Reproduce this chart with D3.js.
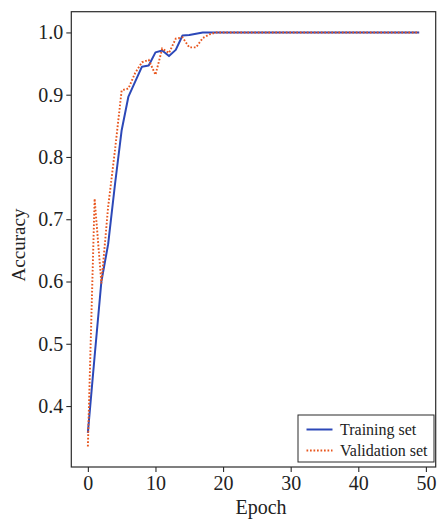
<!DOCTYPE html>
<html>
<head>
<meta charset="utf-8">
<script src="https://cdn.jsdelivr.net/npm/d3@7"></script>
<style>
  html, body { margin: 0; padding: 0; background: #fff; }
  svg { display: block; }
  text { font-family: "Liberation Serif", "Times New Roman", serif; fill: #222; }
</style>
</head>
<body>
<svg id="chart" width="438" height="519"></svg>
<script>
// Accuracy per epoch (0..49)
const trainingAcc = [
  0.357, 0.480, 0.600, 0.660, 0.755, 0.843, 0.897, 0.921, 0.945, 0.947,
  0.968, 0.971, 0.962, 0.972, 0.995, 0.996, 0.998, 1.000, 1.000, 1.000,
  1.000, 1.000, 1.000, 1.000, 1.000, 1.000, 1.000, 1.000, 1.000, 1.000,
  1.000, 1.000, 1.000, 1.000, 1.000, 1.000, 1.000, 1.000, 1.000, 1.000,
  1.000, 1.000, 1.000, 1.000, 1.000, 1.000, 1.000, 1.000, 1.000, 1.000
];
const validationAcc = [
  0.335, 0.733, 0.597, 0.720, 0.810, 0.907, 0.910, 0.935, 0.952, 0.956,
  0.932, 0.974, 0.967, 0.990, 0.992, 0.976, 0.976, 0.991, 0.997, 1.000,
  1.000, 1.000, 1.000, 1.000, 1.000, 1.000, 1.000, 1.000, 1.000, 1.000,
  1.000, 1.000, 1.000, 1.000, 1.000, 1.000, 1.000, 1.000, 1.000, 1.000,
  1.000, 1.000, 1.000, 1.000, 1.000, 1.000, 1.000, 1.000, 1.000, 1.000
];
const xTicks = [0, 10, 20, 30, 40, 50];
const yTicks = [0.4, 0.5, 0.6, 0.7, 0.8, 0.9, 1.0];
const seriesNames = ["Training set", "Validation set"];
const xTitle = "Epoch";
const yTitle = "Accuracy";

const W = 438, H = 519;
const plot = { left: 71.3, right: 435.7, top: 11.7, bottom: 467 };

const svg = d3.select("#chart");

const x = d3.scaleLinear().domain([-2.45, 51.45]).range([plot.left, plot.right]);
const y = d3.scaleLinear().domain([0.3021, 1.0333]).range([plot.bottom, plot.top]);

const frameColor = "#2b2b2b";
const blue = "#2c48b8";
const orange = "#e8561e";

// Axes (ticks outward, labels in serif)
const xAxis = d3.axisBottom(x).tickValues(xTicks).tickFormat(d3.format("d")).tickSizeOuter(0).tickSize(5).tickPadding(4);
const yAxis = d3.axisLeft(y).tickValues(yTicks).tickFormat(d3.format(".1f")).tickSizeOuter(0).tickSize(5).tickPadding(3);

const gx = svg.append("g").attr("transform", `translate(0,${plot.bottom})`).call(xAxis);
const gy = svg.append("g").attr("transform", `translate(${plot.left},0)`).call(yAxis);
[gx, gy].forEach(g => {
  g.select(".domain").remove();
  g.selectAll(".tick line").attr("stroke", frameColor).attr("stroke-width", 1.1);
  g.selectAll(".tick text").attr("font-size", 20).attr("fill", "#222")
    .attr("font-family", "'Liberation Serif', 'Times New Roman', serif");
});

// Series lines
const line = d3.line().x((d, i) => x(i)).y(d => y(d));

svg.append("path").datum(trainingAcc)
  .attr("fill", "none").attr("stroke", blue).attr("stroke-width", 2)
  .attr("stroke-linejoin", "round")
  .attr("d", line);

svg.append("path").datum(validationAcc)
  .attr("fill", "none").attr("stroke", orange).attr("stroke-width", 1.9)
  .attr("stroke-dasharray", "1.7,1.8")
  .attr("d", line);

// Frame around the plotting area
svg.append("rect")
  .attr("x", plot.left).attr("y", plot.top)
  .attr("width", plot.right - plot.left).attr("height", plot.bottom - plot.top)
  .attr("fill", "none").attr("stroke", frameColor).attr("stroke-width", 1.2);

// Axis titles
svg.append("text").attr("x", 261).attr("y", 514).attr("text-anchor", "middle")
  .attr("font-size", 20).text(xTitle);
svg.append("text").attr("transform", "translate(25,245) rotate(-90)")
  .attr("text-anchor", "middle").attr("font-size", 19).text(yTitle);

// Legend
const lg = svg.append("g");
lg.append("rect").attr("x", 298).attr("y", 415).attr("width", 136).attr("height", 47)
  .attr("fill", "#fff").attr("stroke", frameColor).attr("stroke-width", 1);
const legendItems = [
  { name: seriesNames[0], color: blue, dash: null, width: 2, yy: 429.5 },
  { name: seriesNames[1], color: orange, dash: "1.7,1.8", width: 1.9, yy: 450.5 }
];
legendItems.forEach(it => {
  lg.append("line").attr("x1", 306.5).attr("x2", 332.5).attr("y1", it.yy).attr("y2", it.yy)
    .attr("stroke", it.color).attr("stroke-width", it.width)
    .attr("stroke-dasharray", it.dash);
  lg.append("text").attr("x", 340).attr("y", it.yy + 5).attr("font-size", 16).text(it.name);
});
</script>
</body>
</html>
